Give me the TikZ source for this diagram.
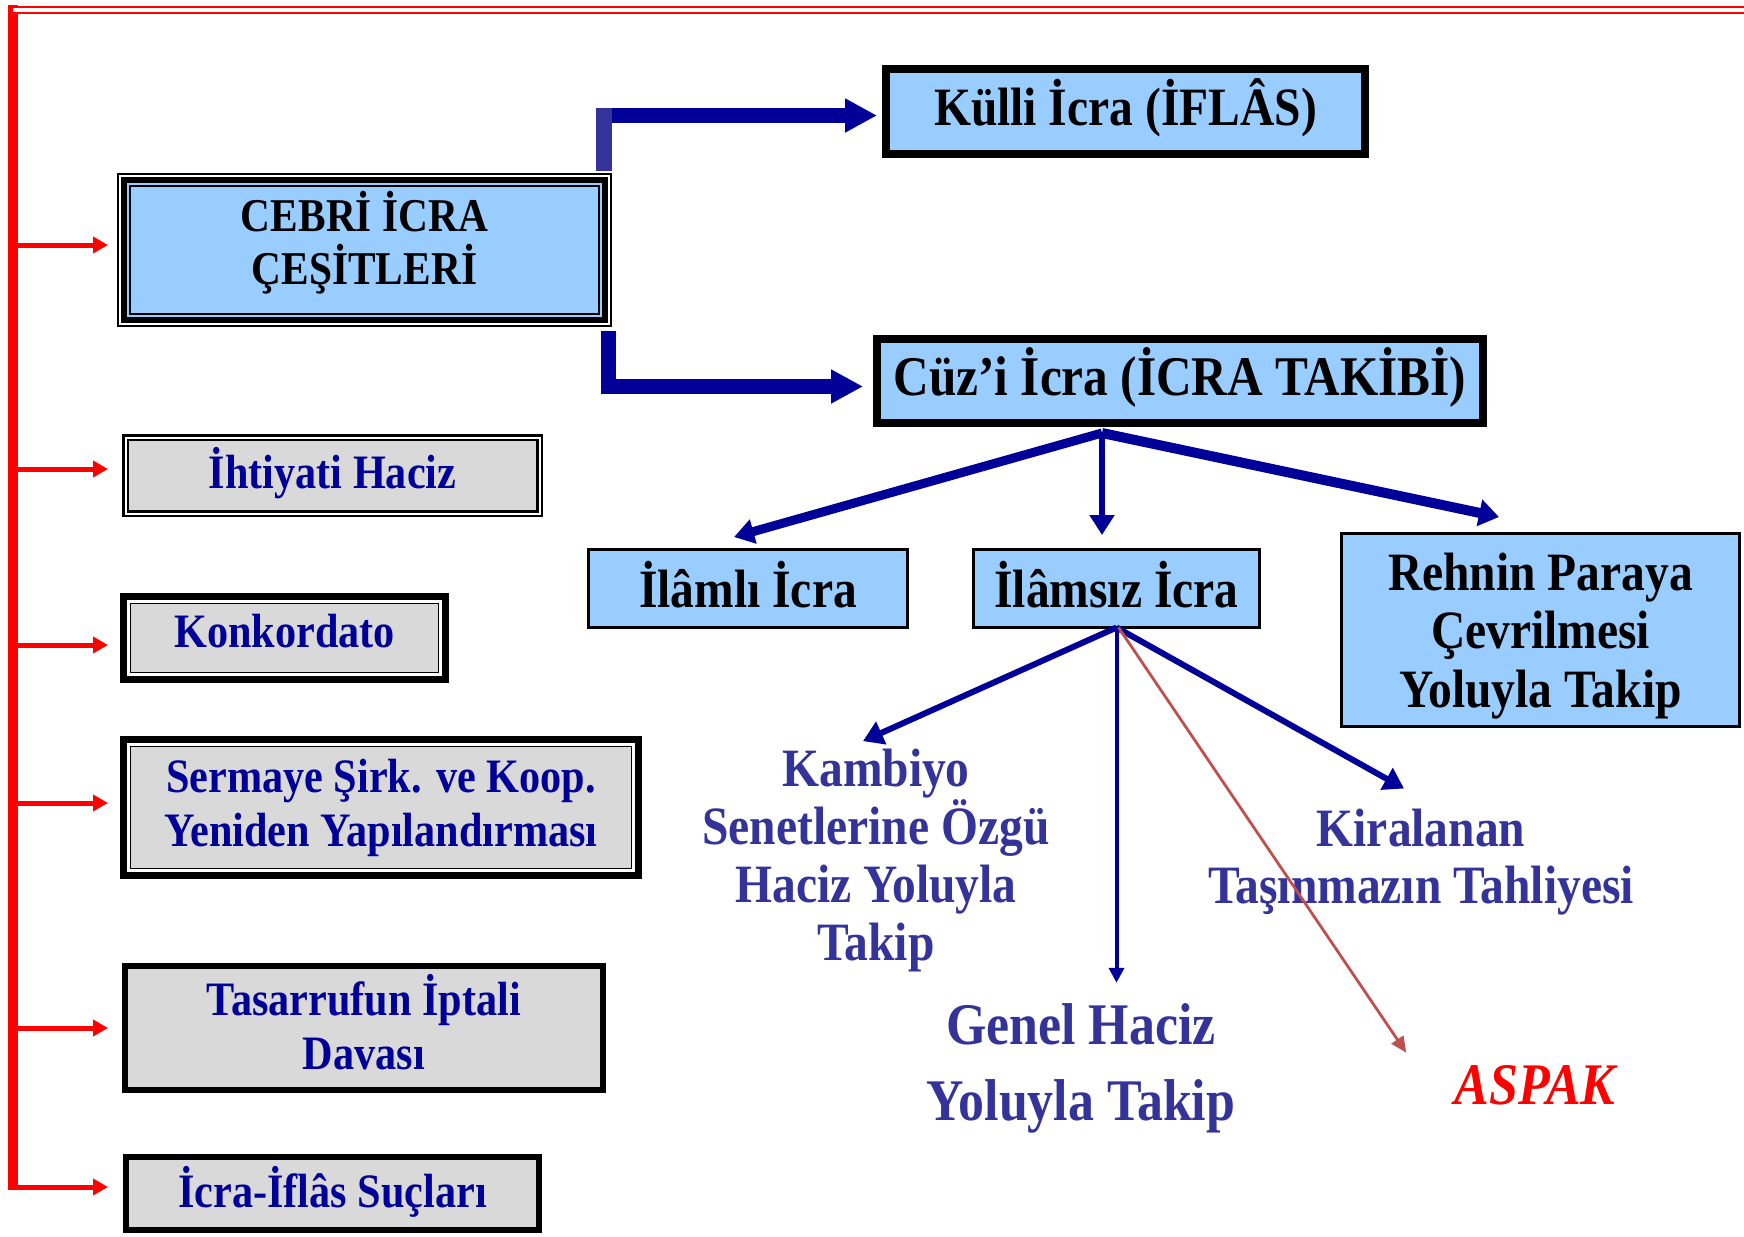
\documentclass[tikz,border=0pt]{standalone}
\usepackage{fontspec}
\setmainfont{Liberation Serif}[FakeStretch=0.88]
\usetikzlibrary{arrows.meta, calc}

\definecolor{cblue}{HTML}{99CCFF}
\definecolor{cgray}{HTML}{D9D9D9}
\definecolor{cnavy}{HTML}{000099}
\definecolor{cslate}{HTML}{333399}
\definecolor{cbrick}{HTML}{C0504D}

% inner frame line of a box: node, inset, width, colour
\newcommand{\inframe}[4]{\draw[#4, line width=#3] ([shift={(#2,-#2)}]#1.north west) rectangle ([shift={(-#2,#2)}]#1.south east);}

\begin{document}
\begin{tikzpicture}[x=0.5pt, y=-0.5pt,
		leftbox/.style={draw, fill=cgray, text=cnavy, inner sep=0pt, outer sep=0pt, align=center, font=\fontsize{24}{27}\selectfont\bfseries},
		rightbox/.style={draw, fill=cblue, inner sep=0pt, outer sep=0pt, align=center, font=\fontsize{27}{29.25}\selectfont\bfseries},
		subtext/.style={text=cslate, inner sep=0pt, align=center, font=\fontsize{27}{29}\selectfont\bfseries},
		redarrow/.style={red, line width=2.5pt, -{Triangle[length=7.5pt,width=8pt]}},
		bluearrow/.style={cnavy, line width=7.5pt, -{Triangle[length=16pt,width=16pt]}},
		fanarrow/.style={cnavy, -{Triangle[length=10pt,width=12pt]}}]
				\useasboundingbox (0,0) rectangle (1744,1236);

				% Left boxes
				\node[rightbox, line width=1pt, minimum width=246.5pt, minimum height=76pt, text depth=12pt, font=\fontsize{23.5}{26.5}\selectfont\bfseries] (cebri) at (364.5,250) {CEBRİ İCRA\\ÇEŞİTLERİ};
				\inframe{cebri}{1pt}{1pt}{white}
				\inframe{cebri}{3pt}{3pt}{black}
				\inframe{cebri}{6pt}{1pt}{black}
				\node[leftbox, line width=1.25pt, double=white, double distance=1pt, minimum width=207pt, minimum height=38pt, text depth=7.5pt] (ihtiyati) at (332.5,475.5) {İhtiyati Haciz};
				\node[leftbox, line width=3.5pt, minimum width=161pt, minimum height=41.5pt, text depth=6.7pt] (konk) at (284.5,638) {Konkordato};
				\inframe{konk}{2.5pt}{1.5pt}{white}
				\inframe{konk}{3.6pt}{0.75pt}{black}
				\node[leftbox, line width=3.5pt, minimum width=257.5pt, minimum height=68pt] (sermaye) at (381,807.5) {Sermaye Şirk. ve Koop.\\Yeniden Yapılandırması};
				\inframe{sermaye}{2.5pt}{1.5pt}{white}
				\inframe{sermaye}{3.6pt}{0.75pt}{black}
				\node[leftbox, line width=3pt, minimum width=239pt, minimum height=62pt, text depth=5.6pt] (tasarruf) at (364,1028) {Tasarrufun İptali\\Davası};
				\node[leftbox, line width=3pt, minimum width=206.5pt, minimum height=36.5pt, text depth=7pt] (suclar) at (332.5,1193.5) {İcra-İflâs Suçları};

				% Right boxes
				\node[rightbox, line width=4pt, minimum width=239.5pt, minimum height=42.5pt, text depth=9.4pt] (kulli) at (1125.5,111.5) {Külli İcra (İFLÂS)};
				\node[rightbox, line width=4pt, minimum width=303pt, minimum height=42pt, text depth=9.6pt, font=\fontsize{28}{30}\selectfont\bfseries] (cuzi) at (1180,381) {Cüz’i İcra (İCRA TAKİBİ)};
				\node[rightbox, line width=1.25pt, minimum width=159.5pt, minimum height=39pt, text depth=4.4pt] (ilamli) at (748,588.5) {İlâmlı İcra};
				\node[rightbox, line width=1.25pt, minimum width=143pt, minimum height=39pt, text depth=4.4pt] (ilamsiz) at (1116.5,588.5) {İlâmsız İcra};
				\node[rightbox, line width=1.25pt, minimum width=199pt, minimum height=96.5pt, text depth=0pt] (rehin) at (1540.5,630) {Rehnin Paraya\\Çevrilmesi\\Yoluyla Takip};

				% Free texts
				\node[subtext] (kambiyo) at (876,861) {Kambiyo\\Senetlerine Özgü\\Haciz Yoluyla\\Takip};
				\node[subtext, font=\fontsize{29.5}{38}\selectfont\bfseries] (genel) at (1081,1068) {Genel Haciz\\Yoluyla Takip};
				\node[subtext, font=\fontsize{27}{28.5}\selectfont\bfseries] (kira) at (1421,862) {Kiralanan\\Taşınmazın Tahliyesi};
				\node[text=red, inner sep=0pt, text depth=3.3pt, font=\fontsize{29.5}{32}\selectfont\bfseries\itshape] (aspak) at (1535,1088) {ASPAK};

				% Red spine
				\coordinate (spinetop) at (12.5,5);
				\coordinate (arrowtip) at (108,0);
				\coordinate (topright) at (1744,10.5);
				\draw[red, line width=5pt, shorten >=-1.25pt] (spinetop) -- ($(spinetop |- suclar.west)+(0,-6.5)$);
				\draw[red, line width=1pt, double=white, double distance=2pt] (spinetop |- topright) -- (topright);
				\draw[redarrow] ($(spinetop |- cebri.west)+(0,-5)$) -- ($(arrowtip |- cebri.west)+(0,-5)$);
				\draw[redarrow] ($(spinetop |- ihtiyati.west)+(0,-6.5)$) -- ($(arrowtip |- ihtiyati.west)+(0,-6.5)$);
				\draw[redarrow] ($(spinetop |- konk.west)+(0,7)$) -- ($(arrowtip |- konk.west)+(0,7)$);
				\draw[redarrow] ($(spinetop |- sermaye.west)+(0,-4.5)$) -- ($(arrowtip |- sermaye.west)+(0,-4.5)$);
				\draw[redarrow] (spinetop |- tasarruf.west) -- (arrowtip |- tasarruf.west);
				\draw[redarrow] ($(spinetop |- suclar.west)+(0,-6.5)$) -- ($(arrowtip |- suclar.west)+(0,-6.5)$);

				% Links from CEBRİ İCRA
				\draw[bluearrow] ([shift={(-3.5pt,1.5pt)}]cebri.north east) |- ([shift={(-4.5pt,-2pt)}]kulli.west);
				\draw[cslate, line width=8pt] ([shift={(-3.5pt,1.5pt)}]cebri.north east) -- ++(0,-63);
				\draw[bluearrow] ([shift={(-1.5pt,-2.5pt)}]cebri.south east) |- ([shift={(-7pt,-2.75pt)}]cuzi.west);

				% Links from Cüz'i İcra
				\coordinate (fork) at ([shift={(-39pt,-5pt)}]cuzi.south);
				\draw[fanarrow, line width=4.5pt] (fork) -- ([shift={(-7pt,6.25pt)}]ilamli.north);
				\draw[fanarrow, line width=3pt] (fork) -- ([shift={(-7.25pt,7.25pt)}]ilamsiz.north);
				\draw[fanarrow, line width=5pt, -{Triangle[length=10pt,width=13pt]}] (fork) -- ([shift={(-20.75pt,8.25pt)}]rehin.north);

				% Links from İlâmsız İcra
				\draw[fanarrow, line width=3pt] (ilamsiz.south) -- ([shift={(-6.5pt,4pt)}]kambiyo.north);
				\draw[fanarrow, line width=2pt, -{Triangle[length=7.5pt,width=7.5pt]}, shorten >=10pt] (ilamsiz.south) -- (ilamsiz.south |- genel.north);
				\draw[fanarrow, line width=3pt] (ilamsiz.south) -- ([shift={(-8.5pt,10pt)}]kira.north);
				\draw[cbrick, line width=1.4pt, -{Triangle[length=8pt,width=7pt]}] ([xshift=1pt]ilamsiz.south) -- ([shift={(-24pt,6pt)}]aspak.north west);
			\end{tikzpicture}
\end{document}
